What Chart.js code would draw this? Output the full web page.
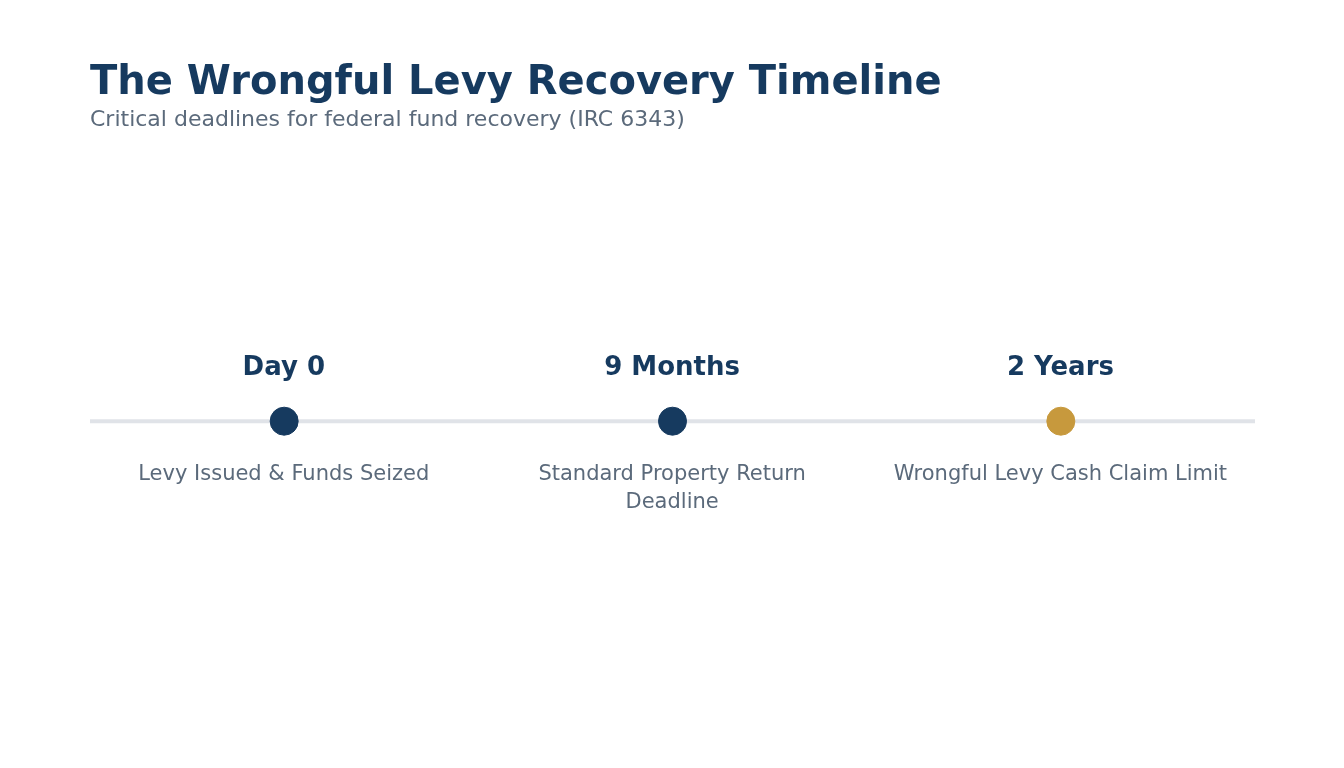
<!DOCTYPE html>
<html>
<head>
<meta charset="utf-8">
<style>
  html, body { margin: 0; padding: 0; background: #fff; }
  #wrap { position: relative; width: 1344px; height: 768px; }
</style>
</head>
<body>
<div id="wrap"><canvas id="chart" width="1344" height="768"></canvas></div>
<script src="https://cdn.jsdelivr.net/npm/chart.js@4/dist/chart.umd.min.js"></script>
<script>
var milestones = ['Day 0', '9 Months', '2 Years'];
var descriptions = [['Levy Issued & Funds Seized'], ['Standard Property Return', 'Deadline'], ['Wrongful Levy Cash Claim Limit']];
var positions = [0.5, 1.5, 2.5];
var dotColors = ['#163A5F', '#163A5F', '#C7993D'];
var lineEnds = [0, 3];

var fontFamily = '"DejaVu Sans", sans-serif';

//Draws milestone names and descriptions next to each dot
var labelPlugin = {
    id: 'timelineLabels',
    afterDatasetsDraw: function (chart) {
        var ctx = chart.ctx;
        var meta = chart.getDatasetMeta(1);
        ctx.save();
        ctx.textAlign = 'center';
        ctx.textBaseline = 'middle';
        meta.data.forEach(function (pt, i) {
            ctx.fillStyle = '#163A5F';
            ctx.font = 'bold 26px ' + fontFamily;
            ctx.fillText(milestones[i], pt.x - 0.4, pt.y - 52.5);
            ctx.fillStyle = '#5B6A7B';
            ctx.font = '21px ' + fontFamily;
            descriptions[i].forEach(function (line, j) {
                ctx.fillText(line, pt.x - 0.4, pt.y + 53.5 + j * 28);
            });
        });
        ctx.restore();
    }
};

new Chart(document.getElementById('chart').getContext('2d'), {
    type: 'scatter',
    plugins: [labelPlugin],
    data: {
        datasets: [
            {
                type: 'line',
                order: 2,
                data: lineEnds.map(function (x) { return { x: x, y: 0 }; }),
                borderColor: '#E0E3E8',
                borderWidth: 4,
                pointRadius: 0
            },
            {
                order: 1,
                data: positions.map(function (x) { return { x: x, y: 0 }; }),
                backgroundColor: dotColors,
                pointBackgroundColor: dotColors,
                pointBorderColor: dotColors,
                pointRadius: 14,
                pointHoverRadius: 14
            }
        ]
    },
    options: {
        responsive: false,
        animation: false,
        layout: { padding: { left: 90, right: 89, top: 36, bottom: 59 } },
        plugins: {
            legend: { display: false },
            tooltip: { enabled: false },
            title: {
                display: true,
                text: 'The Wrongful Levy Recovery Timeline',
                align: 'start',
                color: '#163A5F',
                font: { family: fontFamily, size: 40, weight: 'bold', lineHeight: 1.175 },
                padding: { top: 24, bottom: 0 }
            },
            subtitle: {
                display: true,
                text: 'Critical deadlines for federal fund recovery (IRC 6343)',
                align: 'start',
                color: '#5B6A7B',
                font: { family: fontFamily, size: 22 },
                padding: { top: 0, bottom: 0 }
            }
        },
        scales: {
            x: { type: 'linear', min: 0, max: 3, display: false },
            y: { type: 'linear', min: -1, max: 1, display: false }
        }
    }
});
</script>
</body>
</html>
